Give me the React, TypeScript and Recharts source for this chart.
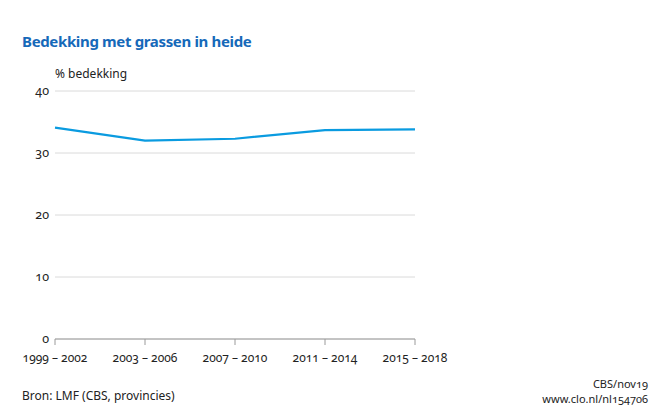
import { CartesianGrid, Line, LineChart, XAxis, YAxis } from 'recharts';

const periods = ['1999 – 2002', '2003 – 2006', '2007 – 2010', '2011 – 2014', '2015 – 2018'];
const coverage = [34.1, 32.0, 32.3, 33.7, 33.8];
const yTicks = [0, 10, 20, 30, 40];

const data = periods.map((period, i) => ({ period, coverage: coverage[i] }));

const font = '"Noto Sans", sans-serif';
const textStyle = { fontFamily: font, fontVariantNumeric: 'oldstyle-nums' as const, color: '#222' };

export default function App() {
  return (
    <div style={{ position: 'absolute', left: 0, top: 0, width: 660, height: 407, background: '#fff', ...textStyle }}>
      <div style={{ position: 'absolute', left: 22, top: 31, fontSize: 15, fontWeight: 700, color: '#1669b9', letterSpacing: -0.35 }}>
        Bedekking met grassen in heide
      </div>
      <div style={{ position: 'absolute', left: 55, top: 65, fontSize: 12 }}>% bedekking</div>
      <LineChart width={660} height={407} data={data} margin={{ top: 91, right: 245, bottom: 38, left: 0 }}>
        <CartesianGrid vertical={false} stroke="#dadada" strokeWidth={1} />
        <XAxis
          dataKey="period"
          height={30}
          axisLine={{ stroke: '#9a9a9a' }}
          tickLine={{ stroke: '#9a9a9a' }}
          tickSize={6}
          tickMargin={8}
          interval={0}
          tick={{ fill: '#222', fontSize: 12, fontFamily: font, style: { fontVariantNumeric: 'oldstyle-nums' } }}
        />
        <YAxis
          width={55}
          domain={[0, 40]}
          ticks={yTicks}
          axisLine={false}
          tickLine={false}
          tickSize={0}
          tickMargin={6}
          tick={{ fill: '#222', fontSize: 12.5, fontFamily: font, style: { fontVariantNumeric: 'oldstyle-nums' } }}
        />
        <Line type="linear" dataKey="coverage" stroke="#0a9be0" strokeWidth={2.2} dot={false} isAnimationActive={false} />
      </LineChart>
      <div style={{ position: 'absolute', left: 22, top: 387, fontSize: 12 }}>Bron: LMF (CBS, provincies)</div>
      <div style={{ position: 'absolute', right: 12, top: 376, fontSize: 11, textAlign: 'right', lineHeight: '15px' }}>
        CBS/nov19
        <br />
        www.clo.nl/nl154706
      </div>
    </div>
  );
}
